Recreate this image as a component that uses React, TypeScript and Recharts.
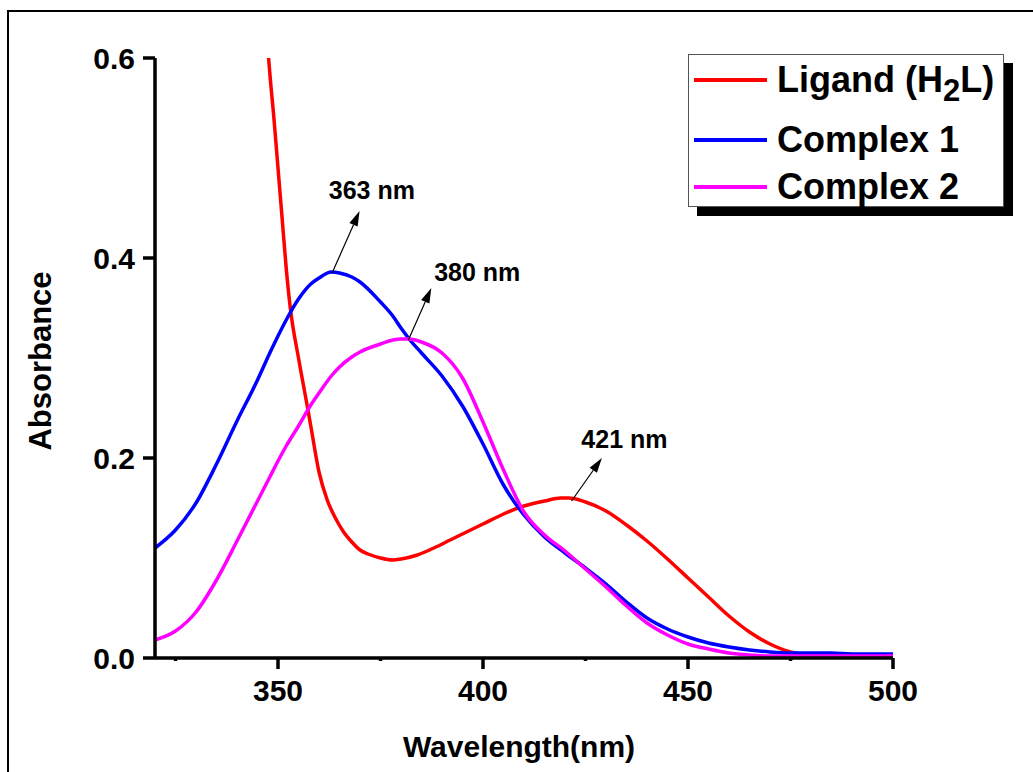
import React from 'react'
import {
  LineChart, Line, XAxis, YAxis, Legend, ReferenceLine, ReferenceDot, Label,
} from 'recharts'

const wavelengths = [320, 325, 330, 335, 340, 345, 348, 350, 352, 355, 358, 360, 363, 365, 368, 370, 375, 378, 380, 382, 385, 390, 395, 400, 405, 410, 415, 420, 425, 430, 435, 440, 445, 450, 455, 460, 465, 470, 475, 480, 485, 490, 495, 500]
const complex1 = [0.110, 0.128, 0.155, 0.194, 0.237, 0.278, 0.305, 0.322, 0.338, 0.359, 0.374, 0.380, 0.386, 0.385, 0.381, 0.376, 0.356, 0.342, 0.330, 0.319, 0.305, 0.282, 0.252, 0.214, 0.173, 0.143, 0.121, 0.105, 0.090, 0.074, 0.056, 0.040, 0.029, 0.021, 0.015, 0.011, 0.008, 0.006, 0.005, 0.005, 0.005, 0.004, 0.004, 0.004]
const complex2 = [0.018, 0.027, 0.046, 0.078, 0.117, 0.157, 0.181, 0.197, 0.212, 0.232, 0.253, 0.265, 0.282, 0.291, 0.301, 0.306, 0.314, 0.318, 0.319, 0.319, 0.316, 0.305, 0.280, 0.236, 0.188, 0.146, 0.123, 0.107, 0.089, 0.071, 0.052, 0.035, 0.023, 0.014, 0.009, 0.005, 0.003, 0.002, 0.002, 0.002, 0.002, 0.002, 0.002, 0.002]

const ligandX = [345, 347, 348, 349, 350, 351, 352, 353, 355, 357, 358, 360, 362, 364, 366, 368, 370, 372, 375, 378, 380, 384, 388, 392, 396, 400, 405, 410, 415, 419, 421, 425, 430, 435, 440, 445, 450, 455, 460, 465, 470, 475, 480, 485, 490, 495, 500]
const ligandY = [0.80, 0.64, 0.585, 0.54, 0.49, 0.44, 0.39, 0.35, 0.300, 0.255, 0.232, 0.186, 0.158, 0.140, 0.126, 0.116, 0.108, 0.104, 0.100, 0.098, 0.099, 0.103, 0.110, 0.118, 0.126, 0.134, 0.144, 0.152, 0.157, 0.160, 0.160, 0.156, 0.147, 0.133, 0.117, 0.099, 0.080, 0.061, 0.042, 0.026, 0.014, 0.006, 0.003, 0.002, 0.002, 0.002, 0.002]

const xTicks = [325, 350, 375, 400, 425, 450, 475, 500]
const yTicks = [0, 0.2, 0.4, 0.6]
const legendOrder = ['Ligand (H2L)', 'Complex 1', 'Complex 2']

// peak annotations: arrow from peak to label, label centre
const peaks = [
  { text: '363 nm', from: [363.2, 0.385], to: [369.9, 0.447], label: [372.9, 0.468] },
  { text: '380 nm', from: [381.8, 0.318], to: [387.4, 0.370], label: [398.6, 0.386] },
  { text: '421 nm', from: [421.6, 0.157], to: [429.0, 0.200], label: [434.5, 0.219] },
]

const complexData = wavelengths.map((w, i) => ({ w, c1: complex1[i], c2: complex2[i] }))
const ligandData = ligandX.map((w, i) => ({ w, lig: ligandY[i] }))

const FONT = '"Liberation Sans", Arial, sans-serif'
const TICK_SIZE = 10

function XTick(props: any) {
  const { x, y, payload } = props
  const axisY = y - TICK_SIZE
  const major = payload.value % 50 === 0
  return (
    <g>
      <line x1={x} x2={x} y1={axisY} y2={axisY + (major ? 11 : 3)} stroke="#000" strokeWidth={3.5} />
      {major && (
        <text x={x} y={axisY + 43} textAnchor="middle" fontFamily={FONT} fontWeight="bold" fontSize={30} fill="#000">
          {payload.value}
        </text>
      )}
    </g>
  )
}

function Arrow(p: any) {
  const { x1, y1, x2, y2 } = p
  const a = Math.atan2(y2 - y1, x2 - x1)
  const L = 15, W = 4.5
  const bx = x2 - L * Math.cos(a), by = y2 - L * Math.sin(a)
  const pts = `${x2},${y2} ${bx + W * Math.sin(a)},${by - W * Math.cos(a)} ${bx - W * Math.sin(a)},${by + W * Math.cos(a)}`
  return (
    <g>
      <line x1={x1} y1={y1} x2={bx} y2={by} stroke="#000" strokeWidth={1.2} />
      <polygon points={pts} fill="#000" />
    </g>
  )
}

function LegendBox({ payload }: any) {
  const tops = [79, 139, 186]
  const items = [...(payload || [])].sort((a: any, b: any) => legendOrder.indexOf(a.value) - legendOrder.indexOf(b.value))
  return (
    <div style={{
      position: 'relative', width: 316, height: 153, boxSizing: 'border-box',
      border: '1px solid #555', background: '#fff', boxShadow: '9px 9px 0 #000',
      fontFamily: FONT, fontWeight: 'bold', fontSize: 36, color: '#000',
    }}>
      {items.map((e: any, i: number) => (
        <div key={e.value} style={{ position: 'absolute', left: 5, top: tops[i] - 54 - 27, height: 54, display: 'flex', alignItems: 'center', whiteSpace: 'nowrap' }}>
          <div style={{ width: 73, height: 4, background: e.color, marginRight: 10 }} />
          {e.value === 'Ligand (H2L)'
            ? <span>Ligand (H<span style={{ fontSize: 31, position: 'relative', top: 9 }}>2</span>L)</span>
            : <span>{e.value}</span>}
        </div>
      ))}
    </div>
  )
}

export default function App() {
  return (
    <div style={{ position: 'absolute', left: 0, top: 0, width: 1033, height: 772, overflow: 'hidden', background: '#fff' }}>
      <div style={{ position: 'absolute', left: 7, top: 10, width: 1200, height: 900, borderLeft: '2px solid #000', borderTop: '2px solid #000' }} />
      <LineChart width={1033} height={772} margin={{ top: 58, right: 140, bottom: 54, left: 75 }}>
        <XAxis
          type="number" dataKey="w" domain={[320, 500]} ticks={xTicks} allowDuplicatedCategory={false}
          height={60} tickSize={TICK_SIZE} tickMargin={0} tickLine={false}
          axisLine={{ stroke: '#000', strokeWidth: 3.5 }} tick={<XTick />} interval={0}
        >
          <Label
            content={(p: any) => {
              const vb = p.viewBox
              return (
                <text x={vb.x + vb.width / 2 - 5} y={757} textAnchor="middle" fontFamily={FONT} fontWeight="bold" fontSize={30} fill="#000">
                  Wavelength(nm)
                </text>
              )
            }}
          />
        </XAxis>
        <YAxis
          type="number" domain={[0, 0.6]} ticks={yTicks} allowDataOverflow width={80}
          tickFormatter={(v: number) => v.toFixed(1)} tickSize={12} tickMargin={8}
          axisLine={{ stroke: '#000', strokeWidth: 3.5 }} tickLine={{ stroke: '#000', strokeWidth: 3.5 }}
          tick={{ fill: '#000', fontSize: 30, fontWeight: 'bold', fontFamily: FONT }}
        >
          <Label
            content={(p: any) => {
              const vb = p.viewBox
              const cy = vb.y + vb.height / 2 + 3
              return (
                <text x={51} y={cy} transform={`rotate(-90 51 ${cy})`} textAnchor="middle" fontFamily={FONT} fontWeight="bold" fontSize={31} fill="#000">
                  Absorbance
                </text>
              )
            }}
          />
        </YAxis>
        <Legend
          layout="horizontal" verticalAlign="middle" align="center"
          wrapperStyle={{ left: 688, top: 54, width: 330, height: 170 }}
          content={<LegendBox />}
        />
        <Line data={ligandData} dataKey="lig" name="Ligand (H2L)" type="monotone" stroke="#ff0000" strokeWidth={3.5} dot={false} isAnimationActive={false} />
        <Line data={complexData} dataKey="c1" name="Complex 1" type="monotone" stroke="#0000ff" strokeWidth={3.5} dot={false} isAnimationActive={false} />
        <Line data={complexData} dataKey="c2" name="Complex 2" type="monotone" stroke="#ff00ff" strokeWidth={3.5} dot={false} isAnimationActive={false} />
        {peaks.map(pk => (
          <ReferenceLine
            key={pk.text}
            segment={[{ x: pk.from[0], y: pk.from[1] }, { x: pk.to[0], y: pk.to[1] }]}
            shape={<Arrow />}
          />
        ))}
        {peaks.map(pk => (
          <ReferenceDot key={'l' + pk.text} x={pk.label[0]} y={pk.label[1]} r={1} fill="none" stroke="none">
            <Label value={pk.text} position="center" fill="#000" fontSize={25} fontWeight="bold" fontFamily={FONT} />
          </ReferenceDot>
        ))}
      </LineChart>
    </div>
  )
}
